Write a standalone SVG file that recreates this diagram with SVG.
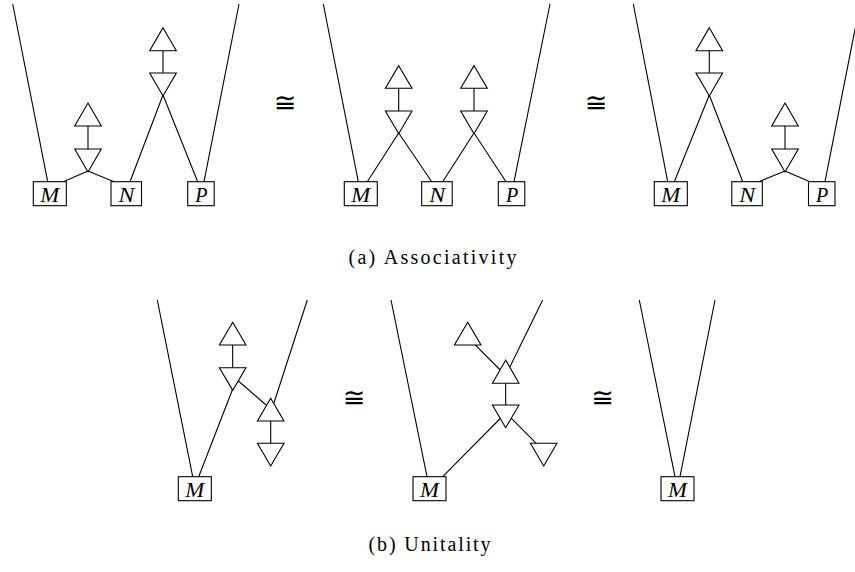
<svg xmlns="http://www.w3.org/2000/svg" width="855" height="572" viewBox="0 0 855 572">
<defs>
<style>
.w{stroke:#000;stroke-width:1.1;fill:none}
.t{fill:#fff;stroke:#000;stroke-width:1.1;stroke-linejoin:miter}
.b{fill:#fff;stroke:#000;stroke-width:1.1}
.l{font-family:"Liberation Serif","Times New Roman",serif;font-style:italic;font-size:20px;text-anchor:middle}
.iso{font-family:"DejaVu Serif","DejaVu Sans",serif;font-size:27px;text-anchor:middle}
.cap{font-family:"Liberation Serif","Times New Roman",serif;font-size:20px}
</style>
</defs>
<rect width="855" height="572" fill="#fff"/>

<g id="connectors">
<!-- panel a1 -->
<path class="w" d="M12.7,4 L47.7,181.7 M239,4 L204,181.7 M88,171 L63.3,181.7 M88,171 L114,181.7 M163,95 L130,181.7 M163,95 L197.7,181.7 M88,126 L88,149 M163,50.7 L163,73"/>
<!-- panel a2 -->
<path class="w" d="M323.3,4 L358.3,181.7 M550,4 L514,181.7 M398.7,133 L367.3,181.7 M398.7,133 L431.7,181.7 M474,133 L442.7,181.7 M474,133 L506,181.7 M398.7,88.3 L398.7,111 M474,88.3 L474,111"/>
<!-- panel a3 -->
<path class="w" d="M633.3,4 L667.7,181.7 M860,4 L825,181.7 M709.3,95 L674.3,181.7 M709.3,95 L742.7,181.7 M785,171 L759,181.7 M785,171 L810,181.7 M709.3,50.7 L709.3,73 M785,126 L785,149"/>
<!-- panel b1 -->
<path class="w" d="M157.3,300 L192.7,476.7 M198.7,476.7 L232.7,389 M232.7,376 L270.7,409 M307.3,300 L270.7,413 M232.7,345 L232.7,367.7 M270.7,421 L270.7,443.3"/>
<!-- panel b2 -->
<path class="w" d="M391,300 L427,476.7 M442.7,476.7 L505.7,413 M467.7,337.4 L505.7,375.5 M542.7,300 L505.7,375.5 M505.7,412.6 L543.7,450.8 M505.7,383.3 L505.7,405"/>
<!-- panel b3 -->
<path class="w" d="M639.3,300 L675,476.7 M715,300 L680,476.7"/>
</g>

<!-- panel a1 nodes -->
<g id="a1-unit1"><polygon class="t" points="88,103 101.3,126 74.7,126"/></g>
<g id="a1-mult1"><polygon class="t" points="74.7,149 101.3,149 88,172"/></g>
<g id="a1-unit2"><polygon class="t" points="163,27.7 176.3,50.7 149.7,50.7"/></g>
<g id="a1-mult2"><polygon class="t" points="149.7,73 176.3,73 163,96"/></g>
<g id="a1-M"><rect class="b" x="33.3" y="181.7" width="33" height="24"/><text class="l" x="49.8" y="201.5" textLength="19" lengthAdjust="spacingAndGlyphs">M</text></g>
<g id="a1-N"><rect class="b" x="111" y="181.7" width="30.5" height="24"/><text class="l" x="126.5" y="201.5" textLength="16" lengthAdjust="spacingAndGlyphs">N</text></g>
<g id="a1-P"><rect class="b" x="187.7" y="181.7" width="26.5" height="24"/><text class="l" x="201.4" y="201.5">P</text></g>

<g id="iso-a1"><text class="iso" x="285" y="112">≅</text></g>

<!-- panel a2 nodes -->
<g id="a2-unit1"><polygon class="t" points="398.7,65.7 412,88.3 385.4,88.3"/></g>
<g id="a2-mult1"><polygon class="t" points="385.4,111 412,111 398.7,133.7"/></g>
<g id="a2-unit2"><polygon class="t" points="474,65.7 487.3,88.3 460.7,88.3"/></g>
<g id="a2-mult2"><polygon class="t" points="460.7,111 487.3,111 474,133.7"/></g>
<g id="a2-M"><rect class="b" x="344.3" y="181.7" width="33" height="24"/><text class="l" x="360.8" y="201.5" textLength="19" lengthAdjust="spacingAndGlyphs">M</text></g>
<g id="a2-N"><rect class="b" x="421.7" y="181.7" width="30.5" height="24"/><text class="l" x="437.2" y="201.5" textLength="16" lengthAdjust="spacingAndGlyphs">N</text></g>
<g id="a2-P"><rect class="b" x="498.3" y="181.7" width="26.5" height="24"/><text class="l" x="512" y="201.5">P</text></g>

<g id="iso-a2"><text class="iso" x="596" y="112">≅</text></g>

<!-- panel a3 nodes -->
<g id="a3-unit1"><polygon class="t" points="709.3,27.7 722.6,50.7 696,50.7"/></g>
<g id="a3-mult1"><polygon class="t" points="696,73 722.6,73 709.3,96"/></g>
<g id="a3-unit2"><polygon class="t" points="785,103 798.3,126 771.7,126"/></g>
<g id="a3-mult2"><polygon class="t" points="771.7,149 798.3,149 785,172"/></g>
<g id="a3-M"><rect class="b" x="654.3" y="181.7" width="33" height="24"/><text class="l" x="670.8" y="201.5" textLength="19" lengthAdjust="spacingAndGlyphs">M</text></g>
<g id="a3-N"><rect class="b" x="731.8" y="181.7" width="30.5" height="24"/><text class="l" x="747.3" y="201.5" textLength="16" lengthAdjust="spacingAndGlyphs">N</text></g>
<g id="a3-P"><rect class="b" x="808.5" y="181.7" width="26.5" height="24"/><text class="l" x="822.2" y="201.5">P</text></g>

<g id="caption-a"><text class="cap" x="348.5" y="264" textLength="168" lengthAdjust="spacing">(a)  Associativity</text></g>

<!-- panel b1 nodes -->
<g id="b1-unit1"><polygon class="t" points="232.7,322.3 246,345 219.4,345"/></g>
<g id="b1-mult1"><polygon class="t" points="219.4,367.7 246,367.7 232.7,390.3"/></g>
<g id="b1-comult"><polygon class="t" points="270.7,398.3 284,421 257.4,421"/></g>
<g id="b1-counit"><polygon class="t" points="257.4,443.3 284,443.3 270.7,466"/></g>
<g id="b1-M"><rect class="b" x="178.3" y="476.7" width="33" height="24"/><text class="l" x="194.8" y="496.5" textLength="19" lengthAdjust="spacingAndGlyphs">M</text></g>

<g id="iso-b1"><text class="iso" x="354" y="407">≅</text></g>

<!-- panel b2 nodes -->
<g id="b2-unit1"><polygon class="t" points="467.7,322.3 481,345 454.4,345"/></g>
<g id="b2-comult"><polygon class="t" points="505.7,360 519,383.3 492.4,383.3"/></g>
<g id="b2-mult"><polygon class="t" points="492.4,405 519,405 505.7,427.7"/></g>
<g id="b2-counit"><polygon class="t" points="530.4,443.3 557,443.3 543.7,466"/></g>
<g id="b2-M"><rect class="b" x="413" y="476.7" width="33" height="24"/><text class="l" x="429.5" y="496.5" textLength="19" lengthAdjust="spacingAndGlyphs">M</text></g>

<g id="iso-b2"><text class="iso" x="602.5" y="407">≅</text></g>

<!-- panel b3 nodes -->
<g id="b3-M"><rect class="b" x="661" y="476.7" width="33" height="24"/><text class="l" x="677.5" y="496.5" textLength="19" lengthAdjust="spacingAndGlyphs">M</text></g>

<g id="caption-b"><text class="cap" x="368.5" y="551" textLength="122" lengthAdjust="spacing">(b)  Unitality</text></g>
</svg>
